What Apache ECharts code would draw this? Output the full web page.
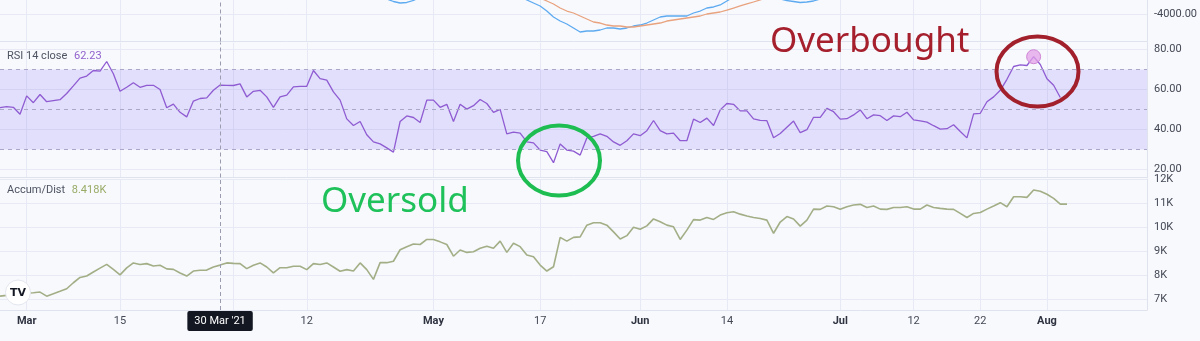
<!DOCTYPE html>
<html><head><meta charset="utf-8">
<script src="https://cdn.jsdelivr.net/npm/echarts@6/dist/echarts.min.js"></script>
<style>html,body{margin:0;padding:0;background:#f7f9fd}#c{width:1200px;height:341px}</style>
</head><body><div id="c"></div>
<script>
// ---------- data ----------
const startDate = [2021, 1, 25];          // 25 Feb 2021 (UTC, month 0-based)
const dayCount = 173;
const crossDate = '2021-03-30';
const crossLabel = "30 Mar '21";
const peakDate = '2021-07-30';
const tickLabels = {
  '2021-03-01': 'Mar', '2021-03-15': '15', '2021-04-01': 'Apr', '2021-04-12': '12',
  '2021-05-01': 'May', '2021-05-17': '17', '2021-06-01': 'Jun', '2021-06-14': '14',
  '2021-07-01': 'Jul', '2021-07-12': '12', '2021-07-22': '22', '2021-08-01': 'Aug'
};
const monthNames = ['Mar', 'Apr', 'May', 'Jun', 'Jul', 'Aug'];
const hiddenTickLabels = ['2021-04-01'];   // covered by crosshair label

const rsiValues = [
  50.9,51.4,51.1,47.6,56.8,53.4,57.5,53.9,54.4,54.9,
  58,61.8,65.7,66.7,69.5,69.2,74,67.9,59.1,61.1,
  63.4,61.1,62.1,62.1,60,50.9,52.7,48.6,46.3,54.2,
  55.5,55.8,59.6,62.23,62.1,62,62.8,56.3,59.1,59.6,
  56.3,51.1,56.3,57.2,61.3,61.6,61.6,69.5,65.4,64.7,
  58.8,54.7,45.3,42,44,37.4,33.8,32.8,30.8,28.7,
  44,46.8,46,43.5,54.7,54.7,51.1,52.6,44,52.6,
  50.2,51.9,55,53,48.6,50.1,37.8,38.7,38.2,33.8,
  33.3,29.7,28.9,23.4,32.8,29.7,29.2,27.2,35.8,36.6,
  37.8,36.6,33.8,32.1,34.4,37.8,36.9,39.4,44.5,39.4,
  37.8,38.2,34.4,34.4,45.2,43.5,45.7,42,49.8,53,
  52.6,49.3,49.3,45.3,44.6,44.4,35.9,38,41.1,44.2,
  38.4,39.9,46.1,46.1,50.6,48.9,45.2,45.4,47.3,49.8,
  45.4,47.3,46.9,44.5,46.8,46.4,48.6,44.8,44.3,43.7,
  41.9,40.2,40.4,42.4,39,35.8,47.8,48.1,53.9,56.3,
  59.6,65.1,71.5,72.3,72,76.4,72.5,65.4,62.1,56
];
// Accumulation/Distribution, thousands
const adValues = [
  7.12,7.15,7.18,7.21,7.24,7.26,7.29,7.12,7.22,7.32,
  7.43,7.68,7.90,7.96,8.13,8.29,8.45,8.24,8.01,8.30,
  8.51,8.44,8.48,8.38,8.41,8.26,8.24,8.09,7.96,8.17,
  8.20,8.21,8.34,8.418,8.51,8.49,8.48,8.27,8.41,8.51,
  8.34,8.09,8.31,8.31,8.37,8.37,8.23,8.48,8.44,8.51,
  8.34,8.16,8.23,8.17,8.51,8.23,7.82,8.52,8.52,8.58,
  9.06,9.19,9.30,9.28,9.49,9.49,9.39,9.28,8.79,9.05,
  8.95,8.98,9.12,9.21,9.12,9.42,8.95,9.33,9.19,8.84,
  8.77,8.42,8.17,8.35,9.58,9.42,9.58,9.60,10.09,10.19,
  10.19,10.09,9.81,9.51,9.65,10.0,9.92,10.06,10.35,10.23,
  10.09,10.02,9.49,9.88,10.32,10.30,10.41,10.33,10.51,10.61,
  10.65,10.55,10.47,10.41,10.37,10.30,9.75,10.22,10.45,10.35,
  10.05,10.30,10.76,10.75,10.89,10.86,10.75,10.86,10.93,10.96,
  10.83,10.89,10.76,10.75,10.83,10.83,10.86,10.76,10.76,10.93,
  10.83,10.79,10.76,10.75,10.58,10.41,10.58,10.62,10.76,10.89,
  11.03,10.86,11.28,11.28,11.25,11.56,11.51,11.38,11.21,10.97,
  10.97
];
// upper oscillator pane (only its lower edge is visible)
const oscBlueStart = 56;
const oscBlue = [
  -2600,-2800,-2889,-3074,-3185,-3148,-3000,-2741,
  -2550,-2400,-2300,-2250,-2200,-2200,-2150,-2150,-2100,-2100,-2150,-2200,-2250,
  -2370,-2667,-2963,-3185,-3407,-3778,-4222,-4519,-4741,-5037,
  -5333,-5259,-5259,-5185,-5037,-5037,-5111,-5037,-4889,-4815,
  -4667,-4444,-4222,-4148,-4148,-4148,-4148,-3926,-3778,-3556,
  -3481,-3333,-3037,-2741,-2444,-2300,-2350,-2500,-2650,-2800,
  -2889,-3000,-3074,-3148,-3111,-3037,-2889,-2700
];
const oscOrangeStart = 78;
const oscOrange = [
  -2300,-2450,-2593,-2815,-3037,-3259,-3556,-3778,-3926,-4148,
  -4370,-4593,-4667,-4815,-4889,-4889,-4963,-4963,-4889,-4815,
  -4741,-4667,-4519,-4444,-4370,-4296,-4222,-4148,-4000,-3926,
  -3852,-3704,-3556,-3407,-3259,-3111,-2963,-2741,-2519
];
const oscTicks = [-4000];
const rsiTicks = [20, 40, 60, 80];
const rsiBand = [30, 70];
const rsiMid = 50;
const adTicks = [7, 8, 9, 10, 11, 12];
const rsiLegend = ['RSI 14 close', '62.23'];
const adLegend = ['Accum/Dist', '8.418K'];

// ---------- build ----------
const dates = [];
const t0 = Date.UTC(startDate[0], startDate[1], startDate[2]);
for (let i = 0; i < dayCount; i++) dates.push(new Date(t0 + i * 86400000).toISOString().slice(0, 10));
const crossIdx = dates.indexOf(crossDate);
function pad(start, arr) {
  const out = new Array(dayCount).fill(null);
  arr.forEach((v, i) => { out[start + i] = v; });
  return out;
}

const FONT = 'Roboto';
const BIG_FONT = 'Noto Sans';
const GRID_LINE = '#e7eaf4';
const AXIS_LINE = '#dfe3ee';
const LABEL_COL = '#454955';
const isTick = (v) => Object.prototype.hasOwnProperty.call(tickLabels, v);
const showLabel = (v) => (isTick(v) && hiddenTickLabels.indexOf(v) < 0) || v === crossDate;

function xAxisFor(gridIndex, withLabels) {
  return {
    type: 'category', gridIndex, data: dates, boundaryGap: false,
    axisLine: { show: true, lineStyle: { color: AXIS_LINE, width: 1 } },
    axisTick: { show: false },
    splitLine: { show: true, interval: (i, v) => isTick(v), lineStyle: { color: GRID_LINE, width: 1 } },
    axisLabel: withLabels ? {
      show: true, margin: 1, hideOverlap: false,
      interval: (i, v) => showLabel(v),
      formatter: (v) => {
        if (v === crossDate) return '{x|' + crossLabel + '}';
        const t = tickLabels[v];
        return monthNames.indexOf(t) >= 0 ? '{m|' + t + '}' : '{n|' + t + '}';
      },
      rich: {
        n: { fontFamily: FONT, fontSize: 11, color: LABEL_COL, padding: [5, 2, 4, 2] },
        m: { fontFamily: FONT, fontSize: 11, fontWeight: 'bold', color: '#2f3340', padding: [5, 2, 4, 2] },
        x: { fontFamily: FONT, fontSize: 11, color: '#ffffff', backgroundColor: '#131722', borderRadius: 2, padding: [5, 7, 4, 7] }
      }
    } : { show: false }
  };
}
function yAxisFor(gridIndex, min, max, ticks, fmt) {
  return {
    type: 'value', gridIndex, position: 'right', min, max, scale: true,
    axisLine: { show: true, lineStyle: { color: AXIS_LINE } },
    axisTick: { show: false, customValues: ticks },
    splitLine: { show: true, lineStyle: { color: GRID_LINE } },
    axisLabel: { show: true, customValues: ticks, formatter: fmt, margin: 7,
      fontFamily: FONT, fontSize: 11, color: LABEL_COL }
  };
}
const crossLine = {
  silent: true, symbol: ['none', 'none'], animation: false,
  label: { show: false },
  lineStyle: { color: '#9a9db0', type: [4, 3], width: 1 },
  data: [{ xAxis: crossIdx }]
};

const option = {
  animation: false,
  backgroundColor: '#f7f9fd',
  grid: [
    { left: 0, right: 53, top: 0, height: 41.5 },
    { left: 0, right: 53, top: 42.5, height: 135 },
    { left: 0, right: 53, top: 179, height: 131 }
  ],
  xAxis: [xAxisFor(0, false), xAxisFor(1, false), xAxisFor(2, true)],
  yAxis: [
    yAxisFor(0, -6037, -2963, oscTicks, (v) => v.toFixed(2)),
    yAxisFor(1, 16, 83.5, rsiTicks, (v) => v.toFixed(2)),
    yAxisFor(2, 6.54, 12.02, adTicks, (v) => v + 'K')
  ],
  series: [
    { type: 'line', name: 'osc-fast', xAxisIndex: 0, yAxisIndex: 0, data: pad(oscBlueStart, oscBlue),
      showSymbol: false, clip: true, lineStyle: { color: '#5eaaf0', width: 1.3 }, markLine: crossLine },
    { type: 'line', name: 'osc-slow', xAxisIndex: 0, yAxisIndex: 0, data: pad(oscOrangeStart, oscOrange),
      showSymbol: false, clip: true, lineStyle: { color: '#e9a27e', width: 1.3 } },
    { type: 'line', name: 'RSI', xAxisIndex: 1, yAxisIndex: 1, data: rsiValues,
      showSymbol: false, clip: true, lineStyle: { color: '#8f5bd2', width: 1.3 },
      markArea: { silent: true, itemStyle: { color: 'rgba(110,90,240,0.16)' },
        data: [[{ yAxis: rsiBand[0] }, { yAxis: rsiBand[1] }]] },
      markLine: {
        silent: true, symbol: ['none', 'none'], animation: false, label: { show: false },
        lineStyle: { color: '#aba7c9', type: [4, 4], width: 1 },
        data: [
          { yAxis: rsiBand[1] }, { yAxis: rsiMid }, { yAxis: rsiBand[0] },
          { xAxis: crossIdx, lineStyle: { color: '#9a9db0', type: [4, 3], width: 1 } }
        ]
      },
      markPoint: { silent: true, symbol: 'circle', symbolSize: 14, label: { show: false },
        itemStyle: { color: 'rgba(226,160,232,0.75)', borderColor: '#d088d4', borderWidth: 1 },
        data: [{ coord: [dates.indexOf(peakDate), rsiValues[dates.indexOf(peakDate)]] }] } },
    { type: 'line', name: 'Accum/Dist', xAxisIndex: 2, yAxisIndex: 2, data: adValues,
      showSymbol: false, clip: true, lineStyle: { color: '#a3ae86', width: 1.6 }, markLine: crossLine }
  ],
  graphic: [
    { type: 'text', x: 7, y: 56, z: 100, style: { text: '{a|' + rsiLegend[0] + '}  {b|' + rsiLegend[1] + '}', verticalAlign: 'middle',
      rich: { a: { fill: '#4f5462', fontSize: 11, fontFamily: FONT }, b: { fill: '#9061cc', fontSize: 11, fontFamily: FONT } } } },
    { type: 'text', x: 7, y: 190, z: 100, style: { text: '{a|' + adLegend[0] + '}  {b|' + adLegend[1] + '}', verticalAlign: 'middle',
      rich: { a: { fill: '#4f5462', fontSize: 11, fontFamily: FONT }, b: { fill: '#9aab66', fontSize: 11, fontFamily: FONT } } } },
    { type: 'text', x: 770, y: 42, z: 100, style: { text: 'Overbought', fill: '#a51f2d', fontSize: 35, fontFamily: BIG_FONT, verticalAlign: 'middle' } },
    { type: 'ellipse', z: 100, shape: { cx: 1037.5, cy: 71.5, rx: 41, ry: 35 }, style: { fill: 'none', stroke: '#a21f2c', lineWidth: 4 } },
    { type: 'text', x: 321, y: 202, z: 100, style: { text: 'Oversold', fill: '#1fc15a', fontSize: 35, fontFamily: BIG_FONT, verticalAlign: 'middle' } },
    { type: 'ellipse', z: 100, shape: { cx: 559, cy: 160.5, rx: 41, ry: 35 }, style: { fill: 'none', stroke: '#1dbd52', lineWidth: 4 } },
    { type: 'circle', z: 100, shape: { cx: 18, cy: 292.5, r: 12.5 }, style: { fill: '#ffffff', stroke: '#e4e7ef', lineWidth: 1 } },
    { type: 'text', x: 18, y: 293, z: 101, style: { text: 'TV', fill: '#131722', fontSize: 11, fontWeight: 'bold', fontFamily: 'DejaVu Sans', align: 'center', verticalAlign: 'middle' } }
  ]
};
const chart = echarts.init(document.getElementById('c'), null, { renderer: 'canvas' });
chart.setOption(option);
</script>
</body></html>
